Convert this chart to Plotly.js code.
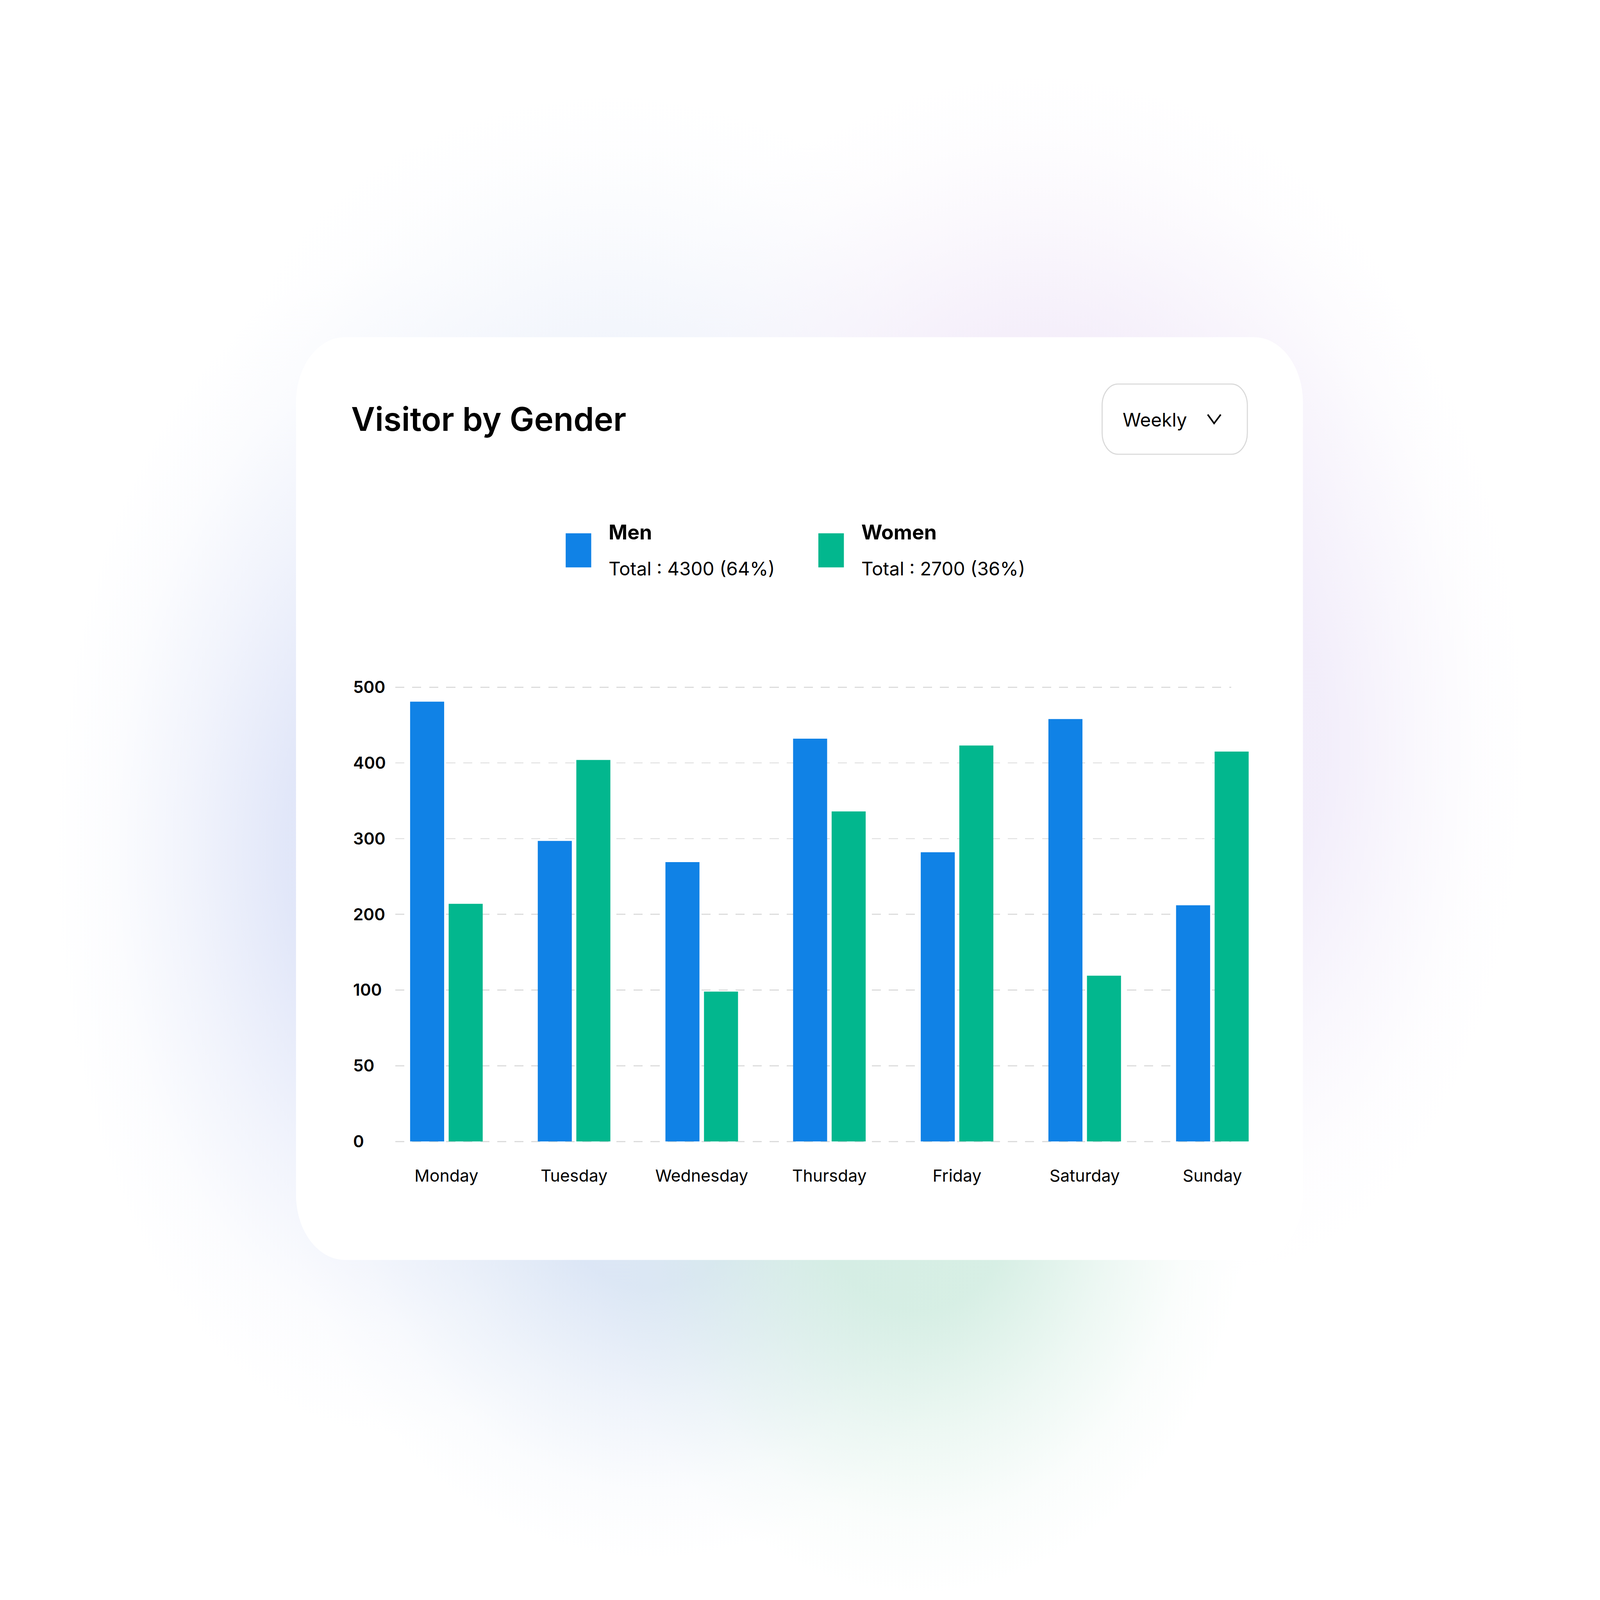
<!DOCTYPE html>
<html>
<head>
<meta charset="utf-8">
<script src="https://cdn.plot.ly/plotly-3.0.1.min.js"></script>
<style>
  html, body { margin:0; padding:0; background:#ffffff; overflow:hidden; }
  #chart { position:absolute; left:0; top:0; }
</style>
</head>
<body>
<div id="chart"></div>
<script>
// ---------- data ----------
const days = ['Monday', 'Tuesday', 'Wednesday', 'Thursday', 'Friday', 'Saturday', 'Sunday'];
const menValues = [481, 297, 269, 432, 282, 458, 212];
const womenValues = [214, 404, 99, 336, 423, 119, 415];
const yTickLabels = [0, 50, 100, 200, 300, 400, 500];
const seriesNames = ['Men', 'Women'];
const seriesTotals = [4300, 2700];
const seriesPercents = [64, 36];
const chartTitle = 'Visitor by Gender';
const periodLabel = 'Weekly';

// ---------- geometry (reference frame 6016 x 4512) ----------
const RW = 6016, RH = 4512;
const W = window.innerWidth || RW, H = window.innerHeight || RH;
const S = Math.min(W / RW, H / RH);
const sz = v => v * S;
const X = px => px / RW;
const Y = py => 1 - py / RH;
const BLUE = '#1082e6', GREEN = '#02b78e';
const FONT = 'Inter, "Noto Sans", sans-serif';

document.documentElement.style.width = W + 'px';
document.documentElement.style.height = H + 'px';
document.body.style.width = W + 'px';
document.body.style.height = H + 'px';

// soft coloured glow around the card, as an SVG background image
const glowSpots = [
  // cx, cy, rx, ry, rgb, alpha   (drawn in order)
  [1450, 2400, 1250, 1650, '222,228,248', 0.9],
  [4650, 2100, 1100, 1500, '238,232,249', 0.75],
  [2300, 1250, 1500, 1000, '234,239,250', 0.6],
  [3900, 1250, 1500, 1050, '238,228,247', 0.6],
  [2450, 3300, 1350, 1100, '214,226,244', 0.85],
  [3450, 3350, 1250, 1150, '208,236,224', 0.85]
];
function glowSVG() {
  let defs = '', body = '';
  glowSpots.forEach((g, i) => {
    const [cx, cy, rx, ry, rgb, a] = g;
    const c = 'rgb(' + rgb + ')';
    defs += '<radialGradient id="g' + i + '">' +
      '<stop offset="0" stop-color="' + c + '" stop-opacity="' + a + '"/>' +
      '<stop offset="0.3" stop-color="' + c + '" stop-opacity="' + a + '"/>' +
      '<stop offset="0.6" stop-color="' + c + '" stop-opacity="' + (a * 0.45) + '"/>' +
      '<stop offset="0.82" stop-color="' + c + '" stop-opacity="' + (a * 0.12) + '"/>' +
      '<stop offset="1" stop-color="' + c + '" stop-opacity="0"/></radialGradient>';
    body += '<ellipse cx="' + cx + '" cy="' + cy + '" rx="' + rx + '" ry="' + ry + '" fill="url(#g' + i + ')"/>';
  });
  const svg = '<svg xmlns="http://www.w3.org/2000/svg" width="' + RW + '" height="' + RH + '" viewBox="0 0 ' + RW + ' ' + RH +
    '" preserveAspectRatio="none"><rect width="' + RW + '" height="' + RH + '" fill="#ffffff"/><defs>' + defs + '</defs>' + body + '</svg>';
  return 'data:image/svg+xml;charset=utf-8,' + encodeURIComponent(svg);
}

// the value axis has evenly spaced (non-linear) ticks; map a value to its tick-index position
function toAxis(v) {
  for (let i = 0; i < yTickLabels.length - 1; i++) {
    const a = yTickLabels[i], b = yTickLabels[i + 1];
    if (v <= b || i === yTickLabels.length - 2) return i + (v - a) / (b - a);
  }
  return 0;
}
const tickPos = yTickLabels.map((_, i) => i);

function rrect(x0, y0, x1, y1, r) {
  const k = 0.5523 * r;
  const p = (x, y) => X(x) + ',' + Y(y);
  return 'M' + p(x0 + r, y0) + ' L' + p(x1 - r, y0) +
    ' C' + p(x1 - r + k, y0) + ' ' + p(x1, y0 + r - k) + ' ' + p(x1, y0 + r) +
    ' L' + p(x1, y1 - r) +
    ' C' + p(x1, y1 - r + k) + ' ' + p(x1 - r + k, y1) + ' ' + p(x1 - r, y1) +
    ' L' + p(x0 + r, y1) +
    ' C' + p(x0 + r - k, y1) + ' ' + p(x0, y1 - r + k) + ' ' + p(x0, y1 - r) +
    ' L' + p(x0, y0 + r) +
    ' C' + p(x0, y0 + r - k) + ' ' + p(x0 + r - k, y0) + ' ' + p(x0 + r, y0) + ' Z';
}

const Y0 = 3219, STEP = 213.5, PADU = 0.35;   // zero line, one tick step, extra range for edge labels
const nT = yTickLabels.length - 1;
const barDomain = [Y(Y0), Y(Y0 - nT * STEP)];
const gridDomain = [Y(Y0 + PADU * STEP), Y(Y0 - (nT + PADU) * STEP)];

const traces = [
  // invisible trace that carries the grid subplot
  { type: 'scatter', x: [0.5], y: [0], mode: 'markers', marker: { opacity: 0 },
    xaxis: 'x', yaxis: 'y', hoverinfo: 'skip', showlegend: false },
  { type: 'bar', name: seriesNames[0], x: days, y: menValues.map(toAxis),
    customdata: menValues, marker: { color: BLUE }, xaxis: 'x2', yaxis: 'y2', showlegend: false },
  { type: 'bar', name: seriesNames[1], x: days, y: womenValues.map(toAxis),
    customdata: womenValues, marker: { color: GREEN }, xaxis: 'x2', yaxis: 'y2', showlegend: false }
];

const legendX = [2127, 3077];
const colors = [BLUE, GREEN];
const shapes = [
  { type: 'path', xref: 'paper', yref: 'paper', layer: 'below', path: rrect(1113, 951, 4899, 3553, 184),
    fillcolor: '#ffffff', line: { width: 0 } },
  { type: 'path', xref: 'paper', yref: 'paper', layer: 'below', path: rrect(4144, 1083, 4690, 1281, 60),
    fillcolor: '#ffffff', line: { color: '#d9d9d9', width: sz(4) } },
  { type: 'path', xref: 'paper', yref: 'paper',
    path: 'M' + X(4541) + ',' + Y(1169) + ' L' + X(4565) + ',' + Y(1194) + ' L' + X(4590) + ',' + Y(1169),
    line: { color: '#000000', width: sz(6) } }
];
legendX.forEach((lx, i) => {
  shapes.push({ type: 'rect', xref: 'paper', yref: 'paper', x0: X(lx), x1: X(lx + 96), y0: Y(1600), y1: Y(1504),
    fillcolor: colors[i], line: { width: 0 } });
});

const annotations = [
  { text: chartTitle, xref: 'paper', yref: 'paper', x: X(1318), y: Y(1181), xanchor: 'left', yanchor: 'middle',
    showarrow: false, font: { family: FONT, size: sz(123), weight: 600, color: '#000000' } },
  { text: periodLabel, xref: 'paper', yref: 'paper', x: X(4218), y: Y(1184), xanchor: 'left', yanchor: 'middle',
    showarrow: false, font: { family: FONT, size: sz(70), weight: 400, color: '#000000' } }
];
legendX.forEach((lx, i) => {
  annotations.push({ text: seriesNames[i], xref: 'paper', yref: 'paper', x: X(lx + 158), y: Y(1500),
    xanchor: 'left', yanchor: 'middle', showarrow: false,
    font: { family: FONT, size: sz(76), weight: 700, color: '#000000' } });
  annotations.push({ text: 'Total : ' + seriesTotals[i] + ' (' + seriesPercents[i] + '%)', xref: 'paper', yref: 'paper',
    x: X(lx + 158), y: Y(1603), xanchor: 'left', yanchor: 'middle', showarrow: false,
    font: { family: FONT, size: sz(70), weight: 400, color: '#000000' } });
});

const layout = {
  width: W, height: H,
  margin: { l: 0, r: 0, t: 0, b: 0 },
  paper_bgcolor: '#ffffff', plot_bgcolor: 'rgba(0,0,0,0)',
  showlegend: false, hovermode: false,
  barmode: 'group', bargap: 0.396, bargroupgap: 0.117,
  images: [{ source: glowSVG(), xref: 'paper', yref: 'paper', x: 0, y: 1, sizex: 1, sizey: 1,
    xanchor: 'left', yanchor: 'top', sizing: 'stretch', layer: 'below' }],
  xaxis: { domain: [X(1486), X(4630)], range: [0, 1], visible: false, fixedrange: true },
  yaxis: {
    domain: gridDomain, range: [-PADU, nT + PADU], anchor: 'free', position: X(1322), side: 'left',
    tickmode: 'array', tickvals: tickPos, ticktext: yTickLabels.map(String),
    ticks: '', ticklabelposition: 'inside', ticklabelstandoff: 0,
    tickfont: { family: FONT, size: sz(62), weight: 600, color: '#000000' },
    showgrid: true, gridcolor: '#dcdcdc', gridwidth: sz(4), griddash: sz(34) + 'px,' + sz(30) + 'px',
    zeroline: false, showline: false, fixedrange: true
  },
  xaxis2: {
    domain: [X(1438.5), X(4798.5)], anchor: 'y2', type: 'category',
    ticks: 'outside', ticklen: sz(74), tickcolor: 'rgba(0,0,0,0)', ticklabelstandoff: sz(40),
    showgrid: false, zeroline: false, showline: false,
    tickfont: { family: FONT, size: sz(63), weight: 400, color: '#000000' }, fixedrange: true
  },
  yaxis2: { domain: barDomain, range: [0, nT], anchor: 'x2', visible: false, fixedrange: true },
  shapes: shapes,
  annotations: annotations
};

const chartDiv = document.getElementById('chart');
chartDiv.style.width = W + 'px';
chartDiv.style.height = H + 'px';
Plotly.newPlot(chartDiv, traces, layout, { staticPlot: true, displayModeBar: false });
</script>
</body>
</html>
